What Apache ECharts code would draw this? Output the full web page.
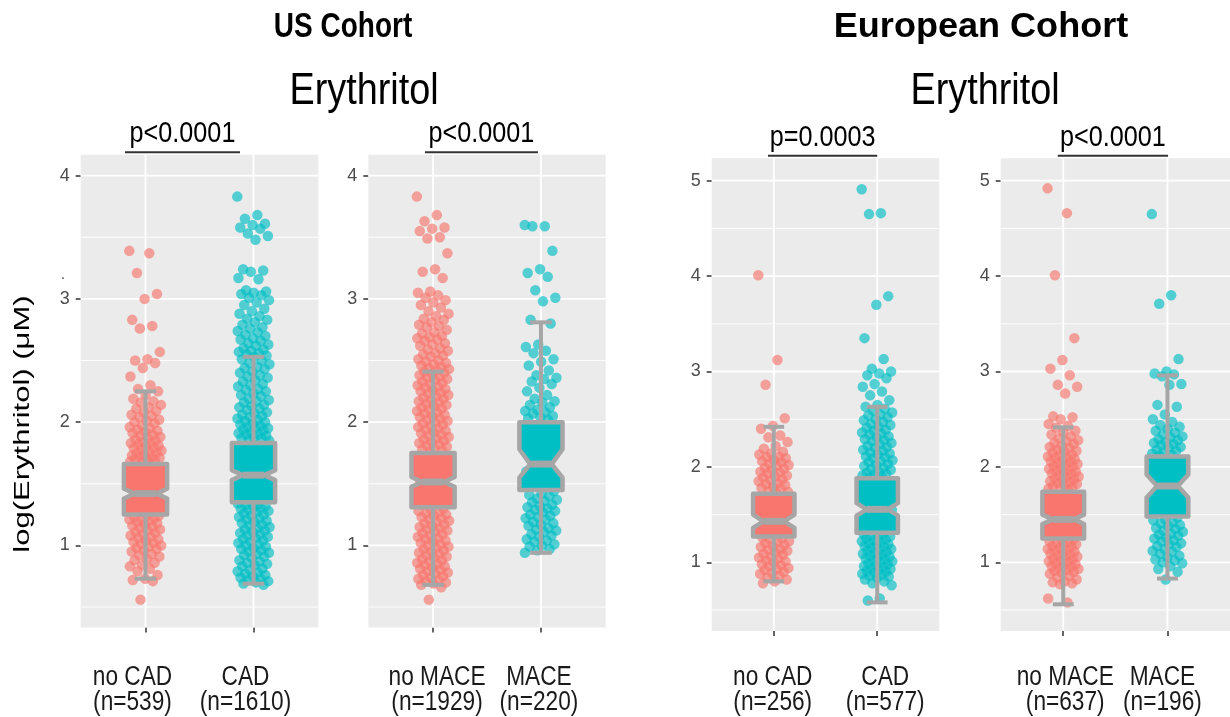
<!DOCTYPE html>
<html><head><meta charset="utf-8">
<script src="https://cdn.jsdelivr.net/npm/echarts@6/dist/echarts.min.js"></script>
<style>html,body{margin:0;padding:0;background:#fff}#c{width:1230px;height:717px}</style>
</head><body><div id="c"></div>
<script>
// ---------- text ----------
const cohortTitles = ['US Cohort', 'European Cohort'];
const panelTitles = ['Erythritol', 'Erythritol'];
const yAxisTitle = 'log(Erythritol) (\u03bcM)';
const pValues = ['p<0.0001', 'p<0.0001', 'p=0.0003', 'p<0.0001'];
const catsUsCad = ['no CAD\n(n=539)', 'CAD\n(n=1610)'];
const catsUsMace = ['no MACE\n(n=1929)', 'MACE\n(n=220)'];
const catsEuCad = ['no CAD\n(n=256)', 'CAD\n(n=577)'];
const catsEuMace = ['no MACE\n(n=637)', 'MACE\n(n=196)'];

// ---------- tick labels ----------
const usTicks = [1, 2, 3, 4];
const usMinor = [0.5, 1.5, 2.5, 3.5];
const euTicks = [1, 2, 3, 4, 5];
const euMinor = [0.5, 1.5, 2.5, 3.5, 4.5];

// ---------- box statistics: [lower whisker, Q1, notch low, median, notch high, Q3, upper whisker] ----------
const boxUsNoCad  = [0.73, 1.25, 1.38, 1.42, 1.46, 1.66, 2.25];
const boxUsCad    = [0.69, 1.35, 1.53, 1.57, 1.61, 1.83, 2.53];
const boxUsNoMace = [0.68, 1.31, 1.475, 1.515, 1.555, 1.75, 2.41];
const boxUsMace   = [0.94, 1.45, 1.55, 1.66, 1.78, 2.00, 2.81];
const boxEuNoCad  = [0.80, 1.27, 1.36, 1.43, 1.50, 1.72, 2.42];
const boxEuCad    = [0.58, 1.31, 1.49, 1.555, 1.62, 1.88, 2.63];
const boxEuNoMace = [0.56, 1.25, 1.40, 1.45, 1.50, 1.74, 2.415];
const boxEuMace   = [0.83, 1.48, 1.68, 1.80, 1.92, 2.11, 2.96];

// ---------- individual points (log erythritol) ----------
const ptsUsNoCad = [3.39,3.37,3.21,3.04,3.00,2.83,2.78,2.76,2.57,2.51,2.50,2.48,2.44,2.37,2.30,2.27,
2.25,2.22,2.19,2.17,2.16,2.14,2.12,2.11,2.09,2.08,2.06,2.05,2.04,2.02,2.01,2.00,1.99,1.97,1.96,1.95,1.94,1.93,1.92,1.91,1.90,1.89,1.88,1.87,1.86,1.85,1.84,1.83,1.83,1.82,1.81,1.80,1.79,1.79,1.78,1.77,1.76,1.75,1.75,1.74,1.73,1.72,1.72,1.71,1.70,1.70,1.69,1.68,1.68,1.67,
1.64,1.61,1.58,1.55,1.52,1.49,1.46,1.43,1.41,1.39,1.36,1.33,1.30,1.27,
1.24,1.24,1.23,1.22,1.21,1.21,1.20,1.19,1.18,1.17,1.16,1.15,1.14,1.13,1.12,1.11,1.10,1.09,1.08,1.07,1.06,1.05,1.04,1.03,1.02,1.01,1.00,0.99,0.98,0.97,0.96,0.95,0.93,0.92,0.91,0.89,0.88,0.86,0.84,0.83,0.81,0.79,0.76,0.73,0.72,0.71,0.56];
const ptsUsCad = [3.83,3.68,3.65,3.61,3.60,3.58,3.57,3.53,3.51,3.48,3.24,3.23,3.22,3.17,3.16,3.07,3.06,3.05,3.04,3.03,3.01,2.99,2.97,2.95,2.92,2.90,2.88,2.86,2.84,2.83,2.81,2.79,2.77,2.76,2.74,2.73,2.71,2.70,2.68,2.67,2.66,2.64,2.63,2.62,2.60,2.59,2.58,2.57,2.56,2.55,2.54,
2.53,2.51,2.50,2.48,2.47,2.45,2.44,2.43,2.41,2.40,2.38,2.37,2.36,2.34,2.33,2.31,2.30,2.29,2.27,2.26,2.25,2.23,2.22,2.21,2.19,2.18,2.17,2.16,2.14,2.13,2.12,2.11,2.10,2.08,2.07,2.06,2.05,2.04,2.03,2.02,2.01,2.00,1.99,1.98,1.97,1.96,1.95,1.95,1.94,1.93,1.92,1.91,1.90,1.90,1.89,1.88,1.87,1.87,1.86,1.85,
1.81,1.77,1.73,1.69,1.65,1.61,1.57,1.53,1.49,1.45,1.41,1.37,
1.34,1.33,1.33,1.32,1.31,1.30,1.30,1.29,1.28,1.27,1.26,1.25,1.24,1.23,1.22,1.21,1.20,1.19,1.18,1.17,1.16,1.15,1.14,1.13,1.12,1.11,1.10,1.09,1.08,1.07,1.06,1.05,1.04,1.03,1.02,1.01,1.00,0.99,0.98,0.97,0.96,0.95,0.94,0.93,0.92,0.91,0.90,0.88,0.87,0.86,0.85,0.84,0.83,0.81,0.80,0.79,0.78,0.77,0.76,0.75,0.74,0.73,0.72,0.71,0.70,0.69,0.68];
const ptsUsNoMace = [3.83,3.68,3.63,3.58,3.57,3.55,3.50,3.49,3.37,3.24,3.22,3.17,3.06,3.05,3.03,3.01,2.99,2.97,2.95,2.93,2.90,2.88,2.86,2.84,2.83,2.81,2.79,2.78,2.77,2.75,2.73,2.72,2.70,2.69,2.68,2.67,2.66,2.64,2.63,2.62,2.60,2.59,2.58,2.56,2.55,2.54,2.53,2.51,2.50,2.49,2.48,2.47,2.46,2.45,2.44,2.43,2.42,
2.41,2.40,2.39,2.38,2.37,2.36,2.35,2.34,2.33,2.32,2.31,2.30,2.29,2.28,2.27,2.26,2.25,2.24,2.23,2.22,2.21,2.20,2.19,2.18,2.17,2.16,2.15,2.14,2.13,2.12,2.11,2.10,2.09,2.08,2.07,2.06,2.05,2.04,2.03,2.02,2.01,2.00,1.99,1.98,1.97,1.96,1.95,1.94,1.93,1.92,1.91,1.90,1.89,1.88,1.87,1.86,1.85,1.84,1.83,1.82,1.81,1.80,1.79,1.78,1.77,1.76,
1.72,1.68,1.64,1.60,1.56,1.52,1.48,1.44,1.40,1.36,1.33,
1.30,1.29,1.28,1.27,1.26,1.25,1.24,1.23,1.22,1.21,1.20,1.19,1.18,1.17,1.16,1.15,1.14,1.13,1.12,1.11,1.10,1.09,1.08,1.07,1.06,1.05,1.04,1.03,1.02,1.01,1.00,0.99,0.98,0.97,0.96,0.95,0.94,0.93,0.92,0.91,0.90,0.89,0.88,0.87,0.86,0.85,0.84,0.83,0.82,0.81,0.80,0.79,0.78,0.77,0.76,0.75,0.74,0.73,0.72,0.71,0.70,0.69,0.68,0.66,0.56];
const ptsUsMace = [3.60,3.59,3.59,3.39,3.24,3.21,3.18,3.07,3.01,2.98,2.83,2.80,2.63,2.61,2.58,2.56,2.51,2.49,2.46,2.42,2.38,2.36,2.35,2.33,2.31,2.28,2.25,2.22,2.19,2.17,2.16,2.14,2.12,2.10,2.09,2.08,2.07,2.05,2.04,2.03,2.02,
1.95,1.90,1.85,1.80,1.72,1.66,1.60,1.55,1.50,
1.44,1.42,1.41,1.40,1.38,1.37,1.36,1.35,1.33,1.32,1.31,1.30,1.29,1.28,1.27,1.25,1.24,1.23,1.22,1.21,1.19,1.18,1.17,1.16,1.14,1.13,1.12,1.11,1.09,1.08,1.07,1.05,1.04,1.03,1.01,1.00,0.99,0.97,0.96,0.94];
const ptsEuNoCad = [4.01,3.12,2.86,2.51,2.43,2.40,2.33,2.31,2.26,2.22,2.19,2.16,2.14,2.13,2.11,2.10,2.09,2.07,2.06,2.05,2.03,2.02,2.01,1.99,1.98,1.97,1.95,1.94,1.93,1.91,1.90,1.89,1.87,1.86,1.85,1.83,1.82,1.81,1.79,1.78,1.77,1.75,1.74,1.73,
1.68,1.62,1.56,1.50,1.45,1.40,1.35,1.30,
1.26,1.25,1.24,1.22,1.21,1.20,1.18,1.17,1.16,1.14,1.13,1.12,1.10,1.09,1.08,1.06,1.05,1.04,1.02,1.01,1.00,0.98,0.97,0.96,0.94,0.93,0.92,0.90,0.89,0.88,0.86,0.84,0.82,0.80,0.78];
const ptsEuCad = [4.91,4.66,4.65,3.79,3.70,3.35,3.13,3.03,3.00,2.98,2.96,2.93,2.87,2.84,2.79,2.75,2.70,2.65,2.63,2.61,2.59,2.57,2.55,2.54,2.52,2.50,2.49,2.47,2.45,2.44,2.42,2.41,2.39,2.38,2.36,2.35,2.34,2.32,2.31,2.29,2.28,2.27,2.25,2.24,2.22,2.21,2.20,2.18,2.17,2.15,2.14,2.13,2.11,2.10,2.09,2.07,2.06,2.05,2.03,2.02,2.01,1.99,1.98,1.97,1.95,1.94,1.93,1.92,1.91,1.90,1.89,
1.84,1.78,1.72,1.66,1.60,1.55,1.50,1.44,1.39,1.34,
1.30,1.29,1.28,1.27,1.26,1.25,1.24,1.23,1.22,1.21,1.20,1.19,1.18,1.17,1.16,1.15,1.14,1.13,1.12,1.11,1.10,1.09,1.08,1.07,1.06,1.05,1.04,1.03,1.02,1.01,1.00,0.99,0.98,0.97,0.96,0.95,0.94,0.93,0.92,0.91,0.90,0.89,0.88,0.87,0.86,0.85,0.84,0.82,0.80,0.78,0.76,0.62,0.60];
const ptsEuNoMace = [4.92,4.66,4.01,3.35,3.12,3.03,2.96,2.86,2.84,2.77,2.53,2.52,2.50,2.45,2.43,2.41,2.38,2.36,2.34,2.32,2.30,2.28,2.27,2.25,2.24,2.22,2.21,2.20,2.18,2.17,2.16,2.15,2.13,2.12,2.11,2.10,2.09,2.08,2.07,2.06,2.05,2.04,2.03,2.02,2.01,2.00,1.99,1.98,1.97,1.96,1.95,1.94,1.93,1.92,1.91,1.90,1.89,1.88,1.87,1.86,1.85,1.84,1.83,1.82,1.81,1.80,1.79,1.78,1.77,1.76,
1.70,1.65,1.60,1.55,1.50,1.45,1.40,1.35,1.30,
1.24,1.23,1.22,1.21,1.20,1.19,1.18,1.17,1.16,1.15,1.14,1.13,1.12,1.11,1.10,1.09,1.08,1.07,1.06,1.05,1.04,1.03,1.02,1.01,1.00,0.99,0.98,0.97,0.96,0.95,0.94,0.93,0.92,0.91,0.90,0.89,0.88,0.86,0.84,0.82,0.80,0.79,0.78,0.77,0.62,0.58];
const ptsEuMace = [4.65,3.80,3.71,3.13,3.00,2.98,2.97,2.95,2.87,2.86,2.65,2.63,2.55,2.50,2.47,2.44,2.42,2.40,2.38,2.36,2.34,2.32,2.31,2.29,2.28,2.26,2.25,2.24,2.23,2.21,2.20,2.18,2.17,2.16,2.14,2.13,2.12,
2.05,1.98,1.90,1.82,1.75,1.68,1.60,1.52,
1.47,1.45,1.44,1.42,1.41,1.39,1.38,1.36,1.35,1.33,1.32,1.30,1.29,1.28,1.26,1.25,1.23,1.22,1.20,1.19,1.17,1.16,1.14,1.12,1.11,1.09,1.07,1.05,1.03,1.02,1.00,0.99,0.96,0.93,0.90,0.82];

// ---------- layout / style ----------
const RED = '#F8766D', TEAL = '#00BFC4', BOXLINE = '#A6A6A6', PANEL = '#EBEBEB';
const FONT = '"Liberation Sans", Arial, sans-serif';
const SQX = 0.84; // horizontal squeeze of the source figure
const panels = [
  {grid: {left: 80.7, top: 154.7, width: 237.6, height: 472.8}, yMin: 0.334, yMax: 4.17, ticks: usTicks, minor: usMinor,
   cats: catsUsCad, boxes: [boxUsNoCad, boxUsCad], pts: [ptsUsNoCad, ptsUsCad], p: pValues[0], bracket: [0.81, 1.875], labDx: [-13, -8]},
  {grid: {left: 368.3, top: 154.7, width: 237.4, height: 472.8}, yMin: 0.334, yMax: 4.17, ticks: usTicks, minor: usMinor,
   cats: catsUsMace, boxes: [boxUsNoMace, boxUsMace], pts: [ptsUsNoMace, ptsUsMace], p: pValues[1], bracket: [0.925, 1.972], labDx: [4, -2]},
  {grid: {left: 711.7, top: 158.3, width: 227.6, height: 472.7}, yMin: 0.28, yMax: 5.235, ticks: euTicks, minor: euMinor,
   cats: catsEuCad, boxes: [boxEuNoCad, boxEuCad], pts: [ptsEuNoCad, ptsEuCad], p: pValues[2], bracket: [0.944, 2.0], labDx: [-1, 8]},
  {grid: {left: 1000.7, top: 158.3, width: 238.7, height: 472.7}, yMin: 0.28, yMax: 5.235, ticks: euTicks, minor: euMinor,
   cats: catsEuMace, boxes: [boxEuNoMace, boxEuMace], pts: [ptsEuNoMace, ptsEuMace], p: pValues[3], bracket: [0.947, 2.006], labDx: [2, -5]}
];
const BOX_HALF = 0.2, NOTCH_HALF = 0.1, CAP_HALF = 0.1, JIT = 0.15;
const jitter = i => (((i * 0.6180339887) % 1) - 0.5) * 2 * JIT;

const chart = echarts.init(document.getElementById('c'), null, {renderer: 'canvas'});

const grids = [], xAxes = [], yAxes = [], series = [];
panels.forEach((p, k) => {
  grids.push(Object.assign({show: true, backgroundColor: PANEL, borderWidth: 0}, p.grid));
  xAxes.push({type: 'value', gridIndex: k, min: 0.4, max: 2.6,
    axisLine: {show: false}, splitLine: {show: false},
    axisTick: {show: true, customValues: [1, 2], length: 5, lineStyle: {color: '#333', width: 1.5}},
    axisLabel: {show: false}});
  yAxes.push({type: 'value', gridIndex: k, min: p.yMin, max: p.yMax,
    axisLine: {show: false}, splitLine: {show: false},
    axisTick: {show: true, customValues: p.ticks, length: 5, lineStyle: {color: '#333', width: 1.5}},
    axisLabel: {customValues: p.ticks, fontSize: 18, color: '#4D4D4D', fontFamily: FONT, margin: 11}});
  // gridlines: [value, kind]  kind 0 = minor horizontal, 1 = major horizontal, 2 = vertical
  const gl = p.minor.map(v => [v, 0]).concat(p.ticks.map(v => [v, 1])).concat([[1, 2], [2, 2]]);
  series.push({type: 'custom', xAxisIndex: k, yAxisIndex: k, z: 1, silent: true, data: gl,
    encode: {x: -1, y: -1},
    renderItem: (params, api) => {
      const v = api.value(0), kind = api.value(1), cs = params.coordSys;
      if (kind === 2) {
        const x = api.coord([v, p.yMin])[0];
        return {type: 'line', shape: {x1: x, y1: cs.y, x2: x, y2: cs.y + cs.height}, style: {stroke: '#fff', lineWidth: 1.8}};
      }
      const y = api.coord([1, v])[1];
      return {type: 'line', shape: {x1: cs.x, y1: y, x2: cs.x + cs.width, y2: y},
        style: {stroke: '#fff', lineWidth: kind === 1 ? 1.8 : 0.9}};
    }});
  [0, 1].forEach(g => {
    series.push({type: 'scatter', xAxisIndex: k, yAxisIndex: k, z: 2, silent: true, symbolSize: 10.5,
      itemStyle: {color: g === 0 ? RED : TEAL, opacity: 0.65},
      data: p.pts[g].map((v, i) => [g + 1 + jitter(i), v])});
  });
  series.push({type: 'custom', xAxisIndex: k, yAxisIndex: k, z: 3, silent: true,
    data: p.boxes.map((b, g) => [g + 1].concat(b)),
    encode: {x: 0, y: [1, 2, 3, 4, 5, 6, 7]},
    renderItem: (params, api) => {
      const x = api.value(0);
      const lw = api.value(1), q1 = api.value(2), nl = api.value(3), md = api.value(4),
            nh = api.value(5), q3 = api.value(6), hw = api.value(7);
      const c = (a, b) => api.coord([a, b]);
      const fill = params.dataIndex === 0 ? RED : TEAL;
      const ln = (a, b, w) => ({type: 'line', shape: {x1: a[0], y1: a[1], x2: b[0], y2: b[1]},
        style: {stroke: BOXLINE, lineWidth: w, lineCap: 'butt'}});
      const poly = [c(x - BOX_HALF, q1), c(x + BOX_HALF, q1), c(x + BOX_HALF, nl), c(x + NOTCH_HALF, md),
        c(x + BOX_HALF, nh), c(x + BOX_HALF, q3), c(x - BOX_HALF, q3), c(x - BOX_HALF, nh),
        c(x - NOTCH_HALF, md), c(x - BOX_HALF, nl)];
      return {type: 'group', children: [
        ln(c(x, q3), c(x, hw), 4), ln(c(x, q1), c(x, lw), 4),
        ln(c(x - CAP_HALF, hw), c(x + CAP_HALF, hw), 4), ln(c(x - CAP_HALF, lw), c(x + CAP_HALF, lw), 4),
        {type: 'polygon', shape: {points: poly}, style: {fill: fill, stroke: BOXLINE, lineWidth: 4.5, lineJoin: 'round'}},
        ln(c(x - NOTCH_HALF, md), c(x + NOTCH_HALF, md), 7)
      ]};
    }});
});

chart.setOption({animation: false, backgroundColor: '#fff', grid: grids, xAxis: xAxes, yAxis: yAxes, series: series});

// ---------- text annotations ----------
function txt(x, y, s, size, opts) {
  opts = opts || {};
  return {type: 'text', x: x, y: y, rotation: opts.rot || 0, scaleX: opts.sx == null ? SQX : opts.sx, scaleY: opts.sy || 1,
    silent: true, z: 10,
    style: {text: s, font: (opts.bold ? 'bold ' : '') + size + 'px ' + FONT, fill: opts.color || '#000',
      textAlign: 'center', textVerticalAlign: 'middle', align: 'center', verticalAlign: 'middle',
      lineHeight: opts.lh || size * 1.15}};
}
const g = [];
g.push(txt(343, 27, cohortTitles[0], 35, {bold: true, sx: 0.8}));
g.push(txt(981, 27, cohortTitles[1], 35, {bold: true, sx: 1.03}));
g.push(txt(364, 92, panelTitles[0], 45));
g.push(txt(985, 92, panelTitles[1], 45));
g.push(txt(23, 424, yAxisTitle, 31, {rot: Math.PI / 2, sx: 1, sy: 0.74}));
g.push(txt(63, 274, '.', 17, {color: '#4D4D4D'}));
panels.forEach((p, k) => {
  const a = chart.convertToPixel({xAxisIndex: k}, p.bracket[0]);
  const b = chart.convertToPixel({xAxisIndex: k}, p.bracket[1]);
  const yb = p.grid.top - 2.5;
  g.push({type: 'line', silent: true, z: 10, shape: {x1: a, y1: yb, x2: b, y2: yb}, style: {stroke: '#333', lineWidth: 2}});
  g.push(txt((a + b) / 2, yb - 18, p.p, 30));
  [0, 1].forEach(i => {
    const x = chart.convertToPixel({xAxisIndex: k}, i + 1) + p.labDx[i];
    g.push(txt(x, 690, p.cats[i], 27, {color: '#1A1A1A', lh: 25}));
  });
});
chart.setOption({graphic: g});
</script></body></html>
